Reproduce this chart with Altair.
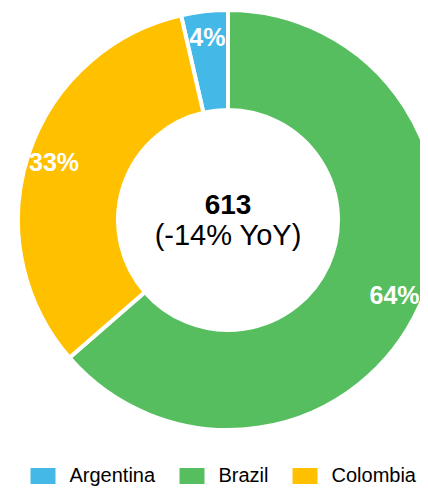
import altair as alt
import pandas as pd

countries = ["Argentina", "Brazil", "Colombia"]
volumes = [22, 390, 201]
colors = ["#44B9E8", "#57BE60", "#FFC000"]
slice_order = ["Brazil", "Colombia", "Argentina"]
yoy_change = -14

df = pd.DataFrame({"country": countries, "value": volumes})

base = (
    alt.Chart(df)
    .transform_calculate(pos=f"indexof({slice_order}, datum.country)")
    .transform_joinaggregate(total="sum(value)")
    .transform_calculate(pct="datum.value / datum.total")
)

theta = alt.Theta("value:Q", stack=True)
order = alt.Order("pos:Q", sort="ascending")
color = alt.Color(
    "country:N",
    scale=alt.Scale(domain=countries, range=colors),
    legend=alt.Legend(
        title=None,
        orient="none",
        legendX=-3,
        legendY=458,
        direction="horizontal",
        symbolType="M-1.5625,-1H1.5625V1H-1.5625Z",
        symbolSize=256,
        symbolStrokeWidth=0,
        symbolOpacity=1,
        labelFontSize=20,
        labelFont="Liberation Sans",
        labelColor="black",
        columnPadding=23,
        labelOffset=16.5,
    ),
)

arcs = base.mark_arc(outerRadius=210, innerRadius=110, stroke="white", strokeWidth=4).encode(
    theta=theta, color=color, order=order
)

labels = base.mark_text(
    radius=183, font="Liberation Sans", fontSize=25, fontWeight="bold", color="white"
).encode(
    theta=theta, order=order, detail="country:N", text=alt.Text("pct:Q", format=".0%")
)

total_text = (
    alt.Chart(df)
    .transform_aggregate(total="sum(value)")
    .mark_text(font="Liberation Sans", fontSize=28, fontWeight="bold", color="black", dy=-14, baseline="middle")
    .encode(text="total:Q")
)

yoy_text = (
    alt.Chart(df)
    .transform_aggregate(total="sum(value)")
    .transform_calculate(label=f"'({yoy_change}% YoY)'")
    .mark_text(font="Liberation Sans", fontSize=29, color="black", dy=16, baseline="middle")
    .encode(text="label:N")
)

chart = (
    alt.layer(arcs, labels, total_text, yoy_text)
    .properties(
        width=384,
        height=424,
        autosize=alt.AutoSizeParams(type="none"),
        padding={"left": 28, "top": 0, "right": 0, "bottom": 56},
    )
    .configure_view(stroke=None)
)

chart.save("out.html", embed_options={"renderer": "svg", "actions": False})
